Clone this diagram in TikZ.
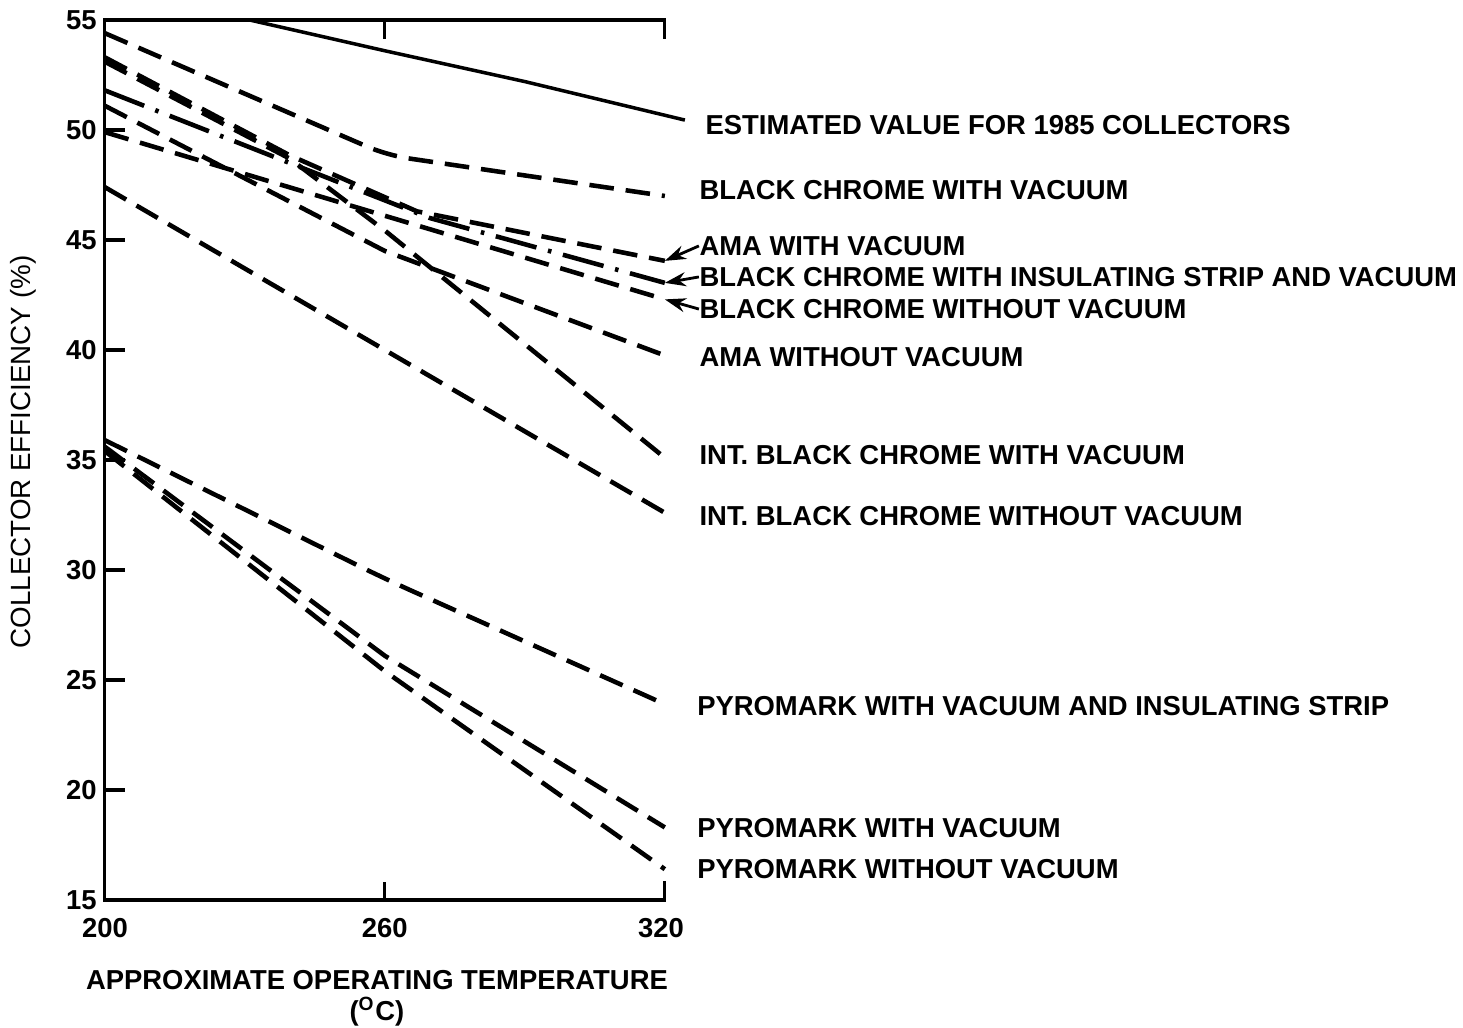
\documentclass[tikz,border=0pt]{standalone}
\usepackage{fontspec}
\setmainfont{Liberation Sans}
\usetikzlibrary{arrows.meta,positioning}

\begin{document}
\begin{tikzpicture}[every node/.style={inner sep=0pt,font=\fontsize{7.8}{9}\selectfont\bfseries},
  axis/.style={line width=0.9pt},
  dashcurve/.style={line width=1.3pt,dash pattern=on 7pt off 3.4pt},
  dotcurve/.style={line width=1.3pt,dash pattern=on 12pt off 3.4pt on 1pt off 3.4pt},
  lab/.style={anchor=west},
  pointer/.style={line width=0.8pt,-{Stealth[length=6pt,width=4pt]}}]
  \useasboundingbox (0,0) rectangle (14.63,10.28);
  \begin{scope}[x=0.0466667cm,y=0.22cm,shift={(-8.28333cm,-2.02cm)}]
    % frame and ticks
    \draw[axis] (320,54.15) -- (320,55) -- (200,55) -- (200,15) -- (320,15) -- (320,15.85);
    \draw[axis] (260,55) -- (260,54.15) (260,15) -- (260,15.8);
    \foreach \e in {20,25,...,50}
      \draw[axis] (200,\e) -- (204.3,\e);
    \foreach \e in {15,20,...,55}
      \node[anchor=east] at (198.4,\e) {\e};
    \node (t200) at (200,13.73) {200};
    \node (t260) at (260,13.73) {260};
    \node (t320) at (319.2,13.73) {320};
    \node (xtitle) at (258.3,11.36) {APPROXIMATE OPERATING TEMPERATURE};
    \node (xunit) at (258.3,9.91) {(\textsuperscript{O}C)};
    \node[rotate=90,font=\fontsize{7.9}{9}\selectfont] (ytitle) at (182.6,35.36) {COLLECTOR EFFICIENCY (\%)};

    % curve ends
    \coordinate (estEnd) at (324.3,50.45);
    \coordinate (bcvEnd) at (320,47.0);
    \coordinate (amavEnd) at (320,44.05);
    \coordinate (bcsEnd) at (320,43.05);
    \coordinate (bcnEnd) at (320,42.3);
    \coordinate (amanEnd) at (320,39.75);
    \coordinate (ibcvEnd) at (320,35.1);
    \coordinate (ibcnEnd) at (320,32.6);
    \coordinate (pysEnd) at (320,23.9);
    \coordinate (pyvEnd) at (320,18.3);
    \coordinate (pynEnd) at (320,16.4);

    % curves
    \draw[line width=1pt] (231,55) -- (260,53.6) -- (290,52.2) -- (estEnd);
    \draw[dashcurve,rounded corners=6pt] (200,54.4) -- (260.5,48.85) -- (bcvEnd);
    \draw[dashcurve] (200,53.3) -- (239.6,48.85) -- (266.9,46.3) -- (amavEnd);
    \draw[dotcurve] (200,51.8) -- (269.6,46.0) -- (bcsEnd);
    \draw[dashcurve] (200,49.9) -- (bcnEnd);
    \draw[dashcurve] (200,51.1) -- (260,44.5) -- (amanEnd);
    \draw[dashcurve] (200,53.1) -- (239.6,48.7) -- (260.4,45.36) -- (ibcvEnd);
    \draw[dashcurve] (200,47.4) -- (ibcnEnd);
    \draw[dashcurve,rounded corners=8pt] (200,35.9) -- (260,29.6) -- (pysEnd);
    \draw[dashcurve] (200,35.6) -- (260,26.1) -- (pyvEnd);
    \draw[dashcurve] (200,35.4) -- (260,25.4) -- (pynEnd);

    % labels
    \node[lab] (estLab) at (328.6,50.23) {ESTIMATED VALUE FOR 1985 COLLECTORS};
    \node[lab] (bcvLab) at (327.3,47.27) {BLACK CHROME WITH VACUUM};
    \node[lab] (amavLab) at (327.3,44.73) {AMA WITH VACUUM};
    \node[lab] (bcsLab) at (327.3,43.32) {BLACK CHROME WITH INSULATING STRIP AND VACUUM};
    \node[lab] (bcnLab) at (327.3,41.86) {BLACK CHROME WITHOUT VACUUM};
    \node[lab] (amanLab) at (327.3,39.68) {AMA WITHOUT VACUUM};
    \node[lab] (ibcvLab) at (327.3,35.23) {INT. BLACK CHROME WITH VACUUM};
    \node[lab] (ibcnLab) at (327.3,32.45) {INT. BLACK CHROME WITHOUT VACUUM};
    \node[lab] (pysLab) at (326.8,23.82) {PYROMARK WITH VACUUM AND INSULATING STRIP};
    \node[lab] (pyvLab) at (326.8,18.27) {PYROMARK WITH VACUUM};
    \node[lab] (pynLab) at (326.8,16.41) {PYROMARK WITHOUT VACUUM};

    \draw[pointer] (amavLab.west) -- (amavEnd);
    \draw[pointer] (bcsLab.west) -- (bcsEnd);
    \draw[pointer] (bcnLab.west) -- (bcnEnd);
  \end{scope}
\end{tikzpicture}
\end{document}
